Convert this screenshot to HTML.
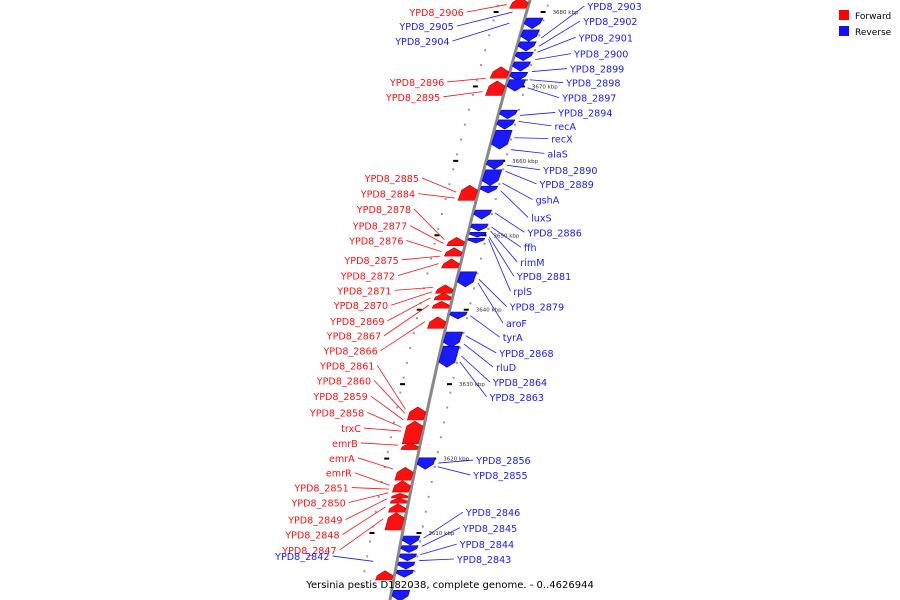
<!DOCTYPE html>
<html><head><meta charset="utf-8">
<style>
html,body{margin:0;padding:0;background:#fff;}
svg{display:block;font-family:"DejaVu Sans","Liberation Sans",sans-serif;}
</style></head>
<body>
<svg id="chart" width="900" height="600" viewBox="0 0 900 600" xmlns="http://www.w3.org/2000/svg">
  <g id="ticks"></g>
  <path id="axis" fill="none" stroke="#888" stroke-width="3"></path>
  <g id="genes"></g>
  <g id="leaders"></g>
  <g id="labels"></g>
  <g>
    <rect x="839" y="10" width="10" height="10" fill="#ff0000"/>
    <text x="855" y="19" font-size="9" fill="#000">Forward</text>
    <rect x="839" y="26" width="10" height="10" fill="#1010ff"/>
    <text x="855" y="35" font-size="9" fill="#000">Reverse</text>
  </g>
  <text x="450" y="588" font-size="10" text-anchor="middle" fill="#000">Yersinia pestis D182038, complete genome. - 0..4626944</text>
</svg>
<script>
// ---- data (kbp coordinates) ----
const fwdStart = [3680.5,3671.1,3668.8,3654.7,3648.6,3647.2,3645.6,3642.2,3641.3,3640.2,3637.5,3625.2,3622.0,3621.2,3617.1,3615.5,3614.7,3614.0,3612.8,3610.4,3603.7];
const fwdEnd   = [3681.8,3672.5,3670.6,3656.6,3649.6,3648.2,3646.7,3643.2,3642.1,3641.0,3638.9,3626.8,3624.9,3622.0,3618.7,3616.9,3615.2,3614.6,3613.8,3612.6,3604.8];
const revStart = [3677.9,3676.2,3674.9,3673.6,3672.2,3670.9,3669.5,3665.8,3664.4,3661.7,3659.0,3656.8,3655.8,3652.3,3650.7,3649.9,3649.1,3643.2,3638.9,3635.1,3632.4,3618.7,3608.5,3607.5,3606.4,3605.3,3604.2,3601.0];
const revEnd   = [3679.2,3677.6,3676.0,3674.6,3673.3,3671.9,3670.9,3666.8,3665.5,3664.1,3660.1,3658.8,3656.6,3653.4,3651.5,3650.4,3649.6,3645.1,3639.7,3637.0,3635.1,3620.1,3609.6,3608.3,3607.2,3606.1,3605.0,3602.3];
const tickKbp = [3680,3670,3660,3650,3640,3630,3620,3610];
const tickLabels = ["3680 kbp","3670 kbp","3660 kbp","3650 kbp","3640 kbp","3630 kbp","3620 kbp","3610 kbp"];
const leftNames = ["YPD8_2906","YPD8_2896","YPD8_2895","YPD8_2885","YPD8_2884","YPD8_2878","YPD8_2877","YPD8_2876","YPD8_2875","YPD8_2872","YPD8_2871","YPD8_2870","YPD8_2869","YPD8_2867","YPD8_2866","YPD8_2861","YPD8_2860","YPD8_2859","YPD8_2858","trxC","emrB","emrA","emrR","YPD8_2851","YPD8_2850","YPD8_2849","YPD8_2848","YPD8_2847"];
const leftLabelKbp = [3679.6,3670.2,3668.2,3657.3,3655.2,3653.1,3650.9,3648.9,3646.3,3644.2,3642.2,3640.2,3638.1,3636.1,3634.1,3632.1,3630.1,3628.0,3625.8,3623.7,3621.7,3619.7,3617.7,3615.7,3613.7,3611.4,3609.4,3607.3];
const leftTargetKbp = [3681.0,3671.1,3669.3,3655.8,3655.0,3649.4,3648.9,3647.8,3647.2,3646.2,3643.0,3642.4,3641.6,3640.6,3638.4,3626.6,3626.1,3625.2,3624.2,3623.7,3621.8,3618.6,3616.4,3615.9,3615.4,3614.6,3613.5,3611.9];
const rightNames = ["YPD8_2903","YPD8_2902","YPD8_2901","YPD8_2900","YPD8_2899","YPD8_2898","YPD8_2897","YPD8_2894","recA","recX","alaS","YPD8_2890","YPD8_2889","gshA","luxS","YPD8_2886","ffh","rimM","YPD8_2881","rplS","YPD8_2879","aroF","tyrA","YPD8_2868","rluD","YPD8_2864","YPD8_2863","YPD8_2856","YPD8_2855","YPD8_2846","YPD8_2845","YPD8_2844","YPD8_2843"];
const rightLabelKbp = [3680.4,3678.4,3676.2,3674.0,3672.0,3670.1,3668.1,3666.1,3664.3,3662.6,3660.6,3658.4,3656.5,3654.4,3652.0,3650.0,3648.0,3646.0,3644.1,3642.1,3640.0,3637.8,3635.9,3633.8,3631.9,3629.9,3627.9,3619.4,3617.4,3612.4,3610.3,3608.1,3606.1];
const rightTargetKbp = [3676.5,3675.4,3674.6,3673.6,3672.0,3670.9,3669.8,3666.1,3665.3,3663.1,3661.5,3659.4,3658.6,3657.0,3656.0,3653.0,3651.1,3650.6,3649.8,3649.5,3644.1,3643.6,3639.2,3636.5,3635.4,3633.8,3633.0,3619.4,3618.9,3609.3,3608.2,3607.1,3606.3];
const leftBlueNames = ["YPD8_2905","YPD8_2904","YPD8_2842"];
const leftBlueLabelKbp = [3677.7,3675.7,3606.5];
const leftBlueTargetKbp = [3680.0,3678.5,3606.2];

// ---- axis functions ----
const NS = "http://www.w3.org/2000/svg";
function yOf(k){ return 12 + (3680 - k) * 7.443; }
function xOf(y){ return 530 - 0.2867*y + 0.0000889*y*y; }
function mk(tag, attrs, parent){ const e=document.createElementNS(NS,tag); for(const k in attrs) e.setAttribute(k,attrs[k]); parent.appendChild(e); return e; }

// axis path
let d=""; for(let y=-5;y<=605;y+=5){ d += (y===-5?"M":"L")+xOf(y).toFixed(1)+","+y+" "; }
document.getElementById("axis").setAttribute("d", d);

// ticks: minor dots + major dashes
const tg=document.getElementById("ticks");
for(let i=0;i<tickKbp.length;i++){
  const y=yOf(tickKbp[i]); const x=xOf(y);
  const t=mk("rect",{x:x+14,y:y-1,width:5,height:2,fill:"#000"},tg);
  
  
  const t2=mk("rect",{x:x-33,y:y-1+0,width:5,height:2,fill:"#000"},tg);
  
  
  const lb=mk("text",{x:x+26,y:y+2,"font-size":"5.5",fill:"#333"},tg);
  lb.textContent=tickLabels[i];
  
  
}
for(let k=3683;k>=3600;k-=2){
  if(k%10===0) continue;
  const y=yOf(k); const x=xOf(y);
  const dt=mk("rect",{x:x+18,y:y,width:2,height:2,fill:"#999"},tg);
  
  
  const dt2=mk("rect",{x:x-32,y:y,width:2,height:2,fill:"#999"},tg);
  
  
}

// genes
const gg=document.getElementById("genes");
function gene(s,e,fwd){
  const y1=yOf(e), y2=yOf(s); // y1 top (higher kbp)
  const h=y2-y1; const head=Math.min(4,h/2);
  const xa=xOf(y1), xb=xOf(y2);
  let pts;
  if(fwd){ // left side, arrow points up
    pts=[[xa-2,y1+head],[xa-10,y1-1],[xa-18,y1+head],[xb-18,y2],[xb-2,y2]];
  } else { // right side, arrow points down
    pts=[[xa+2,y1],[xa+18,y1],[xb+18,y2-head],[xb+10,y2+1],[xb+2,y2-head]];
  }
  const p=mk("polygon",{points:pts.map(q=>q[0].toFixed(1)+","+q[1].toFixed(1)).join(" "),fill:fwd?"#ff1010":"#1a1aff",stroke:fwd?"#c00000":"#0000b0","stroke-width":"0.6"},gg);
  
  
}
for(let i=0;i<fwdStart.length;i++) gene(fwdStart[i],fwdEnd[i],true);
for(let i=0;i<revStart.length;i++) gene(revStart[i],revEnd[i],false);

// labels
const lg=document.getElementById("labels"), ll=document.getElementById("leaders");
function label(name,lk,tk,side,color){
  const ly=yOf(lk), ty=yOf(tk), tx=xOf(ty);
  let lx, endX, anchor, sx;
  if(side==="L"){ lx = xOf(ly) - 62 - 0; anchor="end"; endX=tx-22; sx=lx+3; }
  else { lx = xOf(ly) + 60; anchor="start"; endX=tx+22; sx=lx-3; }
  if(side==="LB"){ lx = xOf(ly) - 68; anchor="end"; endX = (tk>3620? tx-14 : tx-24); sx=lx+3; }
  const l=mk("line",{x1:sx,y1:ly-3,x2:endX,y2:ty,stroke:color,"stroke-width":"0.8"},ll);
  
  
  const t=mk("text",{x:lx,y:ly+1,"font-size":"9.6","text-anchor":anchor,fill:color},lg);
  t.textContent=name;
  
  
}
for(let i=0;i<leftNames.length;i++) label(leftNames[i],leftLabelKbp[i],leftTargetKbp[i],"L","#ff1010");
for(let i=0;i<rightNames.length;i++) label(rightNames[i],rightLabelKbp[i],rightTargetKbp[i],"R","#1a1aff");
for(let i=0;i<leftBlueNames.length;i++) label(leftBlueNames[i],leftBlueLabelKbp[i],leftBlueTargetKbp[i],"LB","#1a1aff");
</script>
</body></html>
